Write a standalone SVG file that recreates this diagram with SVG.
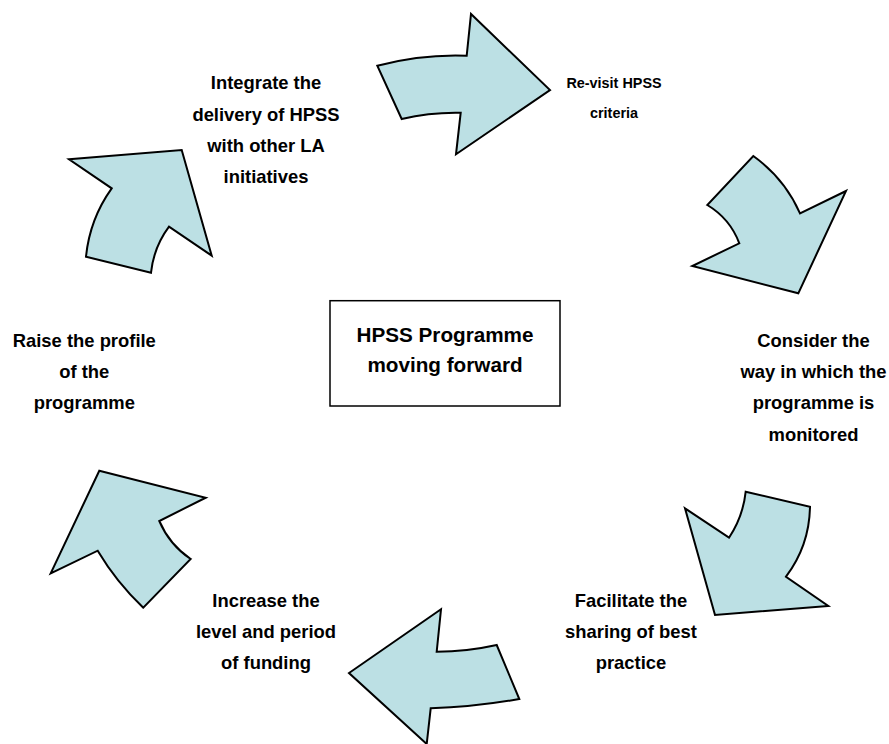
<svg xmlns="http://www.w3.org/2000/svg" width="889" height="744" viewBox="0 0 889 744">
<style>
.arrow{fill:#BCE0E4;stroke:#000;stroke-width:2;stroke-linejoin:miter}
.lbl{font-family:"Liberation Sans",Arial,sans-serif;font-weight:bold;font-size:18.4px;fill:#000;text-anchor:middle}
.small{font-size:14.4px}
.box{fill:#fff;stroke:#000;stroke-width:1.5}
.title{font-family:"Liberation Sans",Arial,sans-serif;font-weight:bold;font-size:20.7px;fill:#000;text-anchor:middle}
</style>
<rect width="889" height="744" fill="#fff"/>
<g id="connectors">
<path class="arrow" d="M377.3,65.7 Q422,54 466.7,55.7 L471,14 L550,90 L456,154.3 L460.7,112.7 Q431,112 401.7,119 Z"/>
<path class="arrow" d="M753.3,156 Q784.5,178.4 800,213.3 L846,191 L798.3,293.3 L692.3,266 L739.3,243.3 Q730,218.6 707.3,205 Z"/>
<path class="arrow" d="M685,508.3 L729,537.7 Q743,516.7 745.7,491.7 L810,506.7 Q809.4,545.6 786,576.7 L828.3,606 L715,615 Z"/>
<path class="arrow" d="M441,609.3 L436.7,651.7 Q466.7,651.7 496.7,645 L519.3,699 Q475,707 430.7,708.3 L426.7,744 L349,673 Z"/>
<path class="arrow" d="M99.3,470.7 L205.7,497.7 L159.3,521 Q169.4,544.6 190.7,559 L143.3,607.7 Q116.6,582.3 97.7,550.7 L50.7,573.3 Z"/>
<path class="arrow" d="M69,159.3 L181.7,150 L211.7,255.7 L169,226.7 Q153.7,247.2 151,272.7 L86,256.7 Q89.7,219.1 111.7,188.3 Z"/>
</g>
<g id="center">
<rect class="box" x="330" y="300.7" width="230" height="105.3"/>
<text class="title" x="445" y="341.7">HPSS Programme</text>
<text class="title" x="445" y="371.7">moving forward</text>
</g>
<g id="integrate">
<text class="lbl" x="266" y="89.3">Integrate the</text>
<text class="lbl" x="266" y="120.5">delivery of HPSS</text>
<text class="lbl" x="266" y="151.6">with other LA</text>
<text class="lbl" x="266" y="182.7">initiatives</text>
</g>
<g id="revisit">
<text class="lbl small" x="614" y="87.5">Re-visit HPSS</text>
<text class="lbl small" x="614" y="117.5">criteria</text>
</g>
<g id="consider">
<text class="lbl" x="813.5" y="346.7">Consider the</text>
<text class="lbl" x="813.5" y="378">way in which the</text>
<text class="lbl" x="813.5" y="409.3">programme is</text>
<text class="lbl" x="813.5" y="440.7">monitored</text>
</g>
<g id="facilitate">
<text class="lbl" x="631" y="607">Facilitate the</text>
<text class="lbl" x="631" y="638">sharing of best</text>
<text class="lbl" x="631" y="669">practice</text>
</g>
<g id="increase">
<text class="lbl" x="266" y="607">Increase the</text>
<text class="lbl" x="266" y="638">level and period</text>
<text class="lbl" x="266" y="669">of funding</text>
</g>
<g id="raise">
<text class="lbl" x="84.3" y="346.7">Raise the profile</text>
<text class="lbl" x="84.3" y="378">of the</text>
<text class="lbl" x="84.3" y="409.3">programme</text>
</g>
</svg>
